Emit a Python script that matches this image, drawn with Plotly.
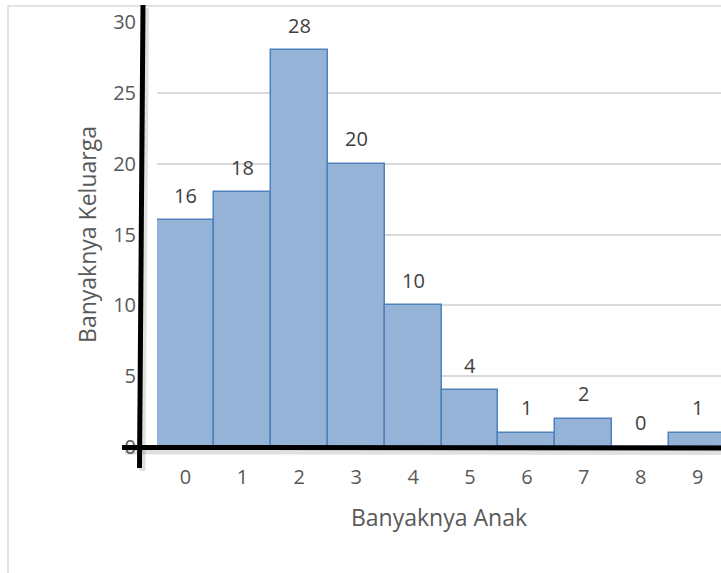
import plotly.graph_objects as go

categories = ["0", "1", "2", "3", "4", "5", "6", "7", "8", "9"]
families = [16, 18, 28, 20, 10, 4, 1, 2, 0, 1]
y_ticks = [0, 5, 10, 15, 20, 25, 30]

W, H = 721, 573
L, R, T, B = 157, 0, 22, 126
pw, ph = W - L - R, H - T - B

def px(x):
    return (x - L) / pw

def py(y):
    return (H - B - y) / ph

FONT = "Open Sans"
FS = 20
TFS = 23
fig = go.Figure()
fig.add_trace(go.Bar(
    x=list(range(len(categories))), y=families,
    marker=dict(color="#95b3d7", line=dict(color="#4f81bd", width=1.5)),
    hoverinfo="skip",
))

for i, v in enumerate(families):
    fig.add_annotation(x=i, y=v, text=str(v), showarrow=False, yshift=25,
                       yanchor="middle", font=dict(family=FONT, size=FS, color="#404040"))

shapes = []
# chart border
shapes.append(dict(type="rect", xref="paper", yref="paper", x0=px(8), x1=px(730), y0=py(585), y1=py(6),
                   line=dict(color="#d9d9d9", width=1.5), fillcolor="rgba(0,0,0,0)", layer="below"))
# shadows of hand-drawn axes
shapes.append(dict(type="line", xref="paper", yref="paper", x0=px(146), y0=py(8), x1=px(142.5), y1=py(471),
                   line=dict(color="rgba(0,0,0,0.12)", width=6)))
shapes.append(dict(type="line", xref="paper", yref="paper", x0=px(125), y0=py(451.5), x1=px(724), y1=py(452),
                   line=dict(color="rgba(0,0,0,0.12)", width=6)))
# hand-drawn axes
shapes.append(dict(type="line", xref="paper", yref="paper", x0=px(143), y0=py(5), x1=px(139.5), y1=py(468),
                   line=dict(color="black", width=5)))
shapes.append(dict(type="line", xref="paper", yref="paper", x0=px(122), y0=py(447.5), x1=px(724), y1=py(448),
                   line=dict(color="black", width=5)))

fig.update_layout(
    width=W, height=H,
    margin=dict(l=L, r=R, t=T, b=B),
    paper_bgcolor="white", plot_bgcolor="white",
    bargap=0, showlegend=False,
    shapes=shapes,
    font=dict(family=FONT, size=FS, color="#595959"),
    xaxis=dict(range=[-0.5, 9.41], tickmode="array", tickvals=list(range(len(categories))),
               ticktext=categories, showgrid=False, zeroline=False, showline=False,
               ticklabelstandoff=16,
               title=dict(text="Banyaknya Anak", standoff=20, font=dict(size=TFS, color="#595959"))),
    yaxis=dict(range=[0, 30], tickvals=y_ticks, showgrid=True, gridcolor="#d9d9d9", gridwidth=1.5,
               zeroline=False, showline=False, ticklabelstandoff=20,
               title=dict(text="Banyaknya Keluarga", standoff=10, font=dict(size=TFS, color="#595959"))),
)

fig.write_html("out.html", config={"displayModeBar": False},
               post_script="document.body.style.margin='0';")
